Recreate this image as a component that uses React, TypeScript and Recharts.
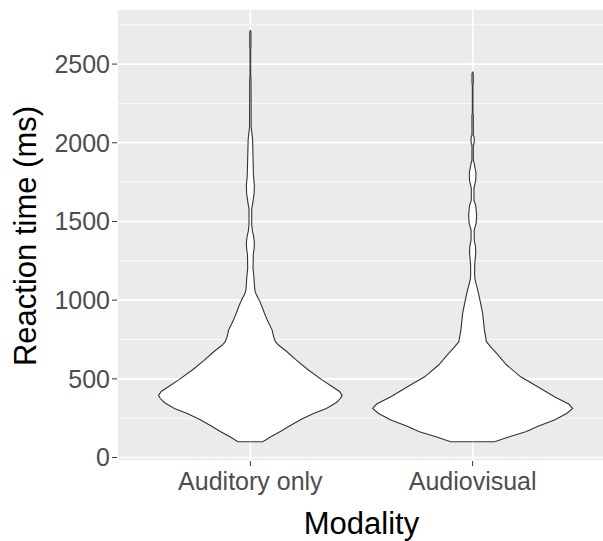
import { ComposedChart, Area, XAxis, YAxis, CartesianGrid, Label } from 'recharts';

const categories = ['Auditory only', 'Audiovisual'];
const yTicks = [0, 500, 1000, 1500, 2000, 2500];
const yMinorTicks = [250, 750, 1250, 1750, 2250, 2750];

// violin outlines: reaction time (ms) -> half width (in category units)
const auditoryRt = [100, 100, 130, 165, 200, 240, 280, 312, 350, 375, 395, 420, 450, 492, 556, 619, 680, 715, 736, 770, 810, 870, 918, 960, 1000, 1040, 1064, 1100, 1147, 1200, 1290, 1330, 1370, 1410, 1440, 1480, 1580, 1620, 1680, 1730, 1790, 1900, 2020, 2060, 2100, 2400, 2430, 2590, 2620, 2700, 2716];
const auditoryHalfWidth = [0, 0.056, 0.09, 0.135, 0.176, 0.225, 0.284, 0.342, 0.387, 0.405, 0.413, 0.401, 0.369, 0.324, 0.261, 0.207, 0.158, 0.126, 0.113, 0.104, 0.098, 0.077, 0.063, 0.052, 0.04, 0.025, 0.02, 0.018, 0.016, 0.012, 0.013, 0.017, 0.018, 0.014, 0.009, 0.006, 0.006, 0.011, 0.017, 0.018, 0.014, 0.012, 0.01, 0.007, 0.0036, 0.003, 0.0014, 0.0014, 0.003, 0.0027, 0];

const audiovisualRt = [100, 100, 132, 164, 200, 238, 280, 312, 340, 386, 450, 513, 588, 662, 700, 736, 810, 916, 1000, 1064, 1128, 1160, 1220, 1255, 1300, 1340, 1382, 1445, 1490, 1541, 1600, 1636, 1712, 1760, 1807, 1870, 1890, 1985, 2000, 2035, 2049, 2176, 2190, 2370, 2381, 2440, 2451];
const audiovisualHalfWidth = [0, 0.099, 0.165, 0.239, 0.297, 0.368, 0.423, 0.45, 0.432, 0.368, 0.293, 0.216, 0.153, 0.108, 0.083, 0.062, 0.053, 0.045, 0.033, 0.023, 0.011, 0.009, 0.009, 0.011, 0.014, 0.013, 0.007, 0.007, 0.016, 0.018, 0.014, 0.006, 0.006, 0.014, 0.015, 0.007, 0.003, 0.003, 0.007, 0.007, 0.003, 0.003, 0.0014, 0.0014, 0.003, 0.0027, 0];

type Row = { rt: number; ao?: number; av?: number };

const rows: Row[] = [
  ...auditoryRt.map((rt, i) => ({ rt, ao: auditoryHalfWidth[i] })),
  ...audiovisualRt.map((rt, i) => ({ rt, av: audiovisualHalfWidth[i] })),
];

const tickStyle = { fill: '#4D4D4D', fontSize: 25 };

function violin(key: 'ao' | 'av', center: number) {
  return [
    <Area
      key={key + '-fill'}
      type="linear"
      dataKey={(d: Row) => (d[key] == null ? [null, null] : [center - d[key]!, center + d[key]!])}
      stroke="none"
      fill="#FFFFFF"
      fillOpacity={1}
      dot={false}
      activeDot={false}
      isAnimationActive={false}
    />,
    <Area
      key={key + '-left'}
      type="linear"
      dataKey={(d: Row) => (d[key] == null ? null : center - d[key]!)}
      stroke="#333333"
      strokeWidth={1.1}
      fill="none"
      dot={false}
      activeDot={false}
      isAnimationActive={false}
    />,
    <Area
      key={key + '-right'}
      type="linear"
      dataKey={(d: Row) => (d[key] == null ? null : center + d[key]!)}
      stroke="#333333"
      strokeWidth={1.1}
      fill="none"
      dot={false}
      activeDot={false}
      isAnimationActive={false}
    />,
  ];
}

export default function App() {
  return (
    <div style={{ position: 'absolute', left: 0, top: 0, width: 603, height: 541, overflow: 'hidden', background: '#fff' }}>
      <ComposedChart
        width={606}
        height={541}
        layout="vertical"
        data={rows}
        margin={{ top: 9, right: 0, bottom: 0, left: 0 }}
        style={{ fontFamily: '"Liberation Sans", Arial, sans-serif' }}
      >
        <CartesianGrid fill="#EBEBEB" fillOpacity={1} stroke="#FFFFFF" strokeWidth={1.6} />
        <CartesianGrid horizontalValues={yMinorTicks} vertical={false} stroke="#FFFFFF" strokeWidth={0.8} />
        <XAxis
          type="number"
          domain={[0.4, 2.6]}
          allowDataOverflow
          ticks={[1, 2]}
          tickFormatter={(v: number) => categories[v - 1]}
          height={80}
          axisLine={false}
          tickLine={{ stroke: '#333333' }}
          tickSize={5}
          tickMargin={6}
          tick={tickStyle}
          interval={0}
        >
          <Label value="Modality" position="insideBottom" offset={7} fill="#000000" fontSize={31} />
        </XAxis>
        <YAxis
          type="number"
          dataKey="rt"
          domain={[-22, 2850]}
          allowDataOverflow
          reversed
          ticks={yTicks}
          width={117}
          axisLine={false}
          tickLine={{ stroke: '#333333' }}
          tickSize={5}
          tickMargin={2}
          tick={tickStyle}
          interval={0}
        >
          <Label
            content={() => (
              <text x={35.5} y={236} transform="rotate(-90 35.5 236)" textAnchor="middle" fontSize={31} fill="#000000">
                Reaction time (ms)
              </text>
            )}
          />
        </YAxis>
        {violin('ao', 1)}
        {violin('av', 2)}
      </ComposedChart>
    </div>
  );
}
